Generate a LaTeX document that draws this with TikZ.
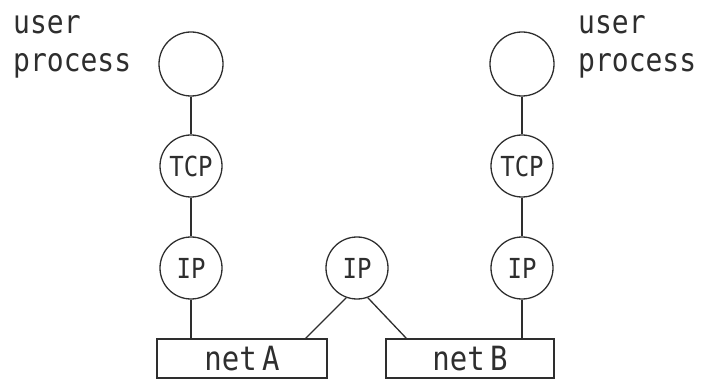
\documentclass[tikz,border=0pt]{standalone}
\usepackage{fontspec}
\usepackage{graphicx}
\usetikzlibrary{calc}
\newfontfamily\plotfont{DejaVu Sans Mono}
\newfontfamily\netfont[WordSpace=0.3]{DejaVu Sans Mono}
\definecolor{ink}{HTML}{2E2E2E}
% plotter lettering is a little taller than the font's own proportions
\newcommand{\tallword}[1]{\scalebox{1}[1.15]{#1}}

\begin{document}
\begin{tikzpicture}[x=1pt, y=-1pt,
  link/.style={draw=ink, line width=1.3pt},
  proc/.style={circle, draw=ink, line width=1.3pt, minimum size=64pt, inner sep=0pt},
  layer/.style={circle, draw=ink, line width=1.3pt, minimum size=62pt, inner sep=0pt,
    text=ink, font=\plotfont\fontsize{24}{24}\selectfont},
  netbox/.style={rectangle, draw=ink, line width=1.3pt, minimum height=39pt, inner sep=0pt,
    text=ink, font=\netfont\fontsize{29}{29}\selectfont},
  caption/.style={anchor=north west, align=left, inner sep=0pt, text=ink,
    font=\plotfont\fontsize{28}{38}\selectfont}
]
\useasboundingbox (0,0) rectangle (709,379);

% host on the left
\node[caption] (capL) at (13,15) {\tallword{user}\\\tallword{process}};
\node[proc]  (upL)  at (191,64)  {};
\node[layer] (tcpL) at (191,166) {\tallword{TCP}};
\node[layer] (ipL)  at (191,268) {\tallword{IP}};

% gateway in the middle
\node[layer] (ipM)  at (357,268) {\tallword{IP}};

% host on the right
\node[caption] (capR) at (578,15) {\tallword{user}\\\tallword{process}};
\node[proc]  (upR)  at (522,64)  {};
\node[layer] (tcpR) at (522,166) {\tallword{TCP}};
\node[layer] (ipR)  at (522,268) {\tallword{IP}};

% the two networks
\node[netbox, minimum width=170pt] (netA) at (242,358.5) {\raisebox{-5pt}{\tallword{net A}}\hspace{11pt}};
\node[netbox, minimum width=168pt] (netB) at (470,358.5) {\raisebox{-5pt}{\tallword{net B}}\hspace{16pt}};

% attachment points on the networks
\coordinate (aL) at (netA.north -| ipL);
\coordinate (aR) at (netB.north -| ipR);
\coordinate (aMA) at ($(netA.north east)+(-22,0)$);
\coordinate (aMB) at ($(netB.north west)+(21,0)$);

% links
\draw[link] (upL) -- (tcpL);
\draw[link] (tcpL) -- (ipL);
\draw[link] (ipL) -- (aL);
\draw[link] (upR) -- (tcpR);
\draw[link] (tcpR) -- (ipR);
\draw[link] (ipR) -- (aR);
\draw[link] (ipM.250) -- (aMA);
\draw[link] (ipM.290) -- (aMB);
\end{tikzpicture}
\end{document}
